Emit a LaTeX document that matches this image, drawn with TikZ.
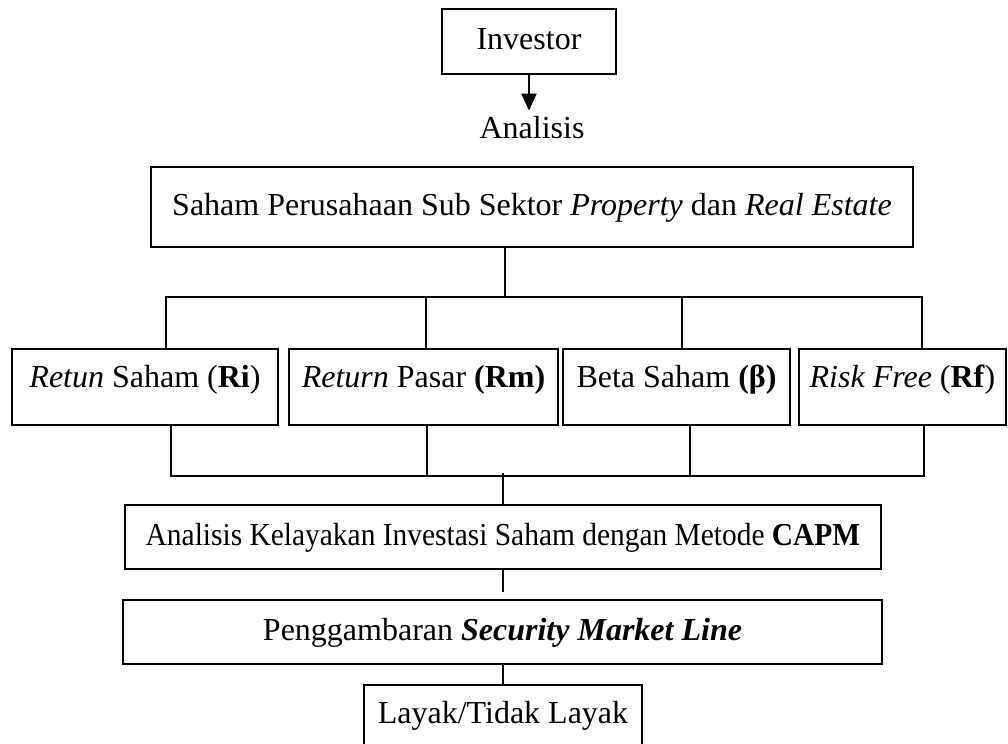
\documentclass[tikz,border=0pt]{standalone}
\usepackage{fontspec}
\setmainfont{Liberation Serif}
\usepackage{xcolor}
\usetikzlibrary{calc,arrows.meta}

\begin{document}
\begin{tikzpicture}[x=0.5pt, y=-0.5pt,
    every node/.style = {font=\fontsize{16}{19}\selectfont},
    kotak/.style = {draw, line width=1pt, inner sep=0pt, text height=11pt, text depth=3pt},
    kotakvar/.style = {draw, line width=1pt, anchor=north, inner xsep=0pt, inner ysep=8pt,
      text height=11pt, text depth=11pt, minimum height=38pt},
    garis/.style = {line width=1pt}]
  \useasboundingbox (0,0) rectangle (1008,744);

  \node[kotak, minimum width=87pt, minimum height=32.5pt] (investor) at (529,41.5) {Investor};
  \node[inner xsep=0pt, inner ysep=2.5pt, text height=11pt, text depth=3pt] (analisis) at (532,130) {Analisis};
  \node[kotak, minimum width=381pt, minimum height=40pt] (saham) at (532,207)
    {Saham Perusahaan Sub Sektor \textit{Property} dan \textit{Real Estate}};

  \node[kotakvar, minimum width=133pt] (ri) at (145,348) {\textit{Retun} Saham (\textbf{Ri})};
  \node[kotakvar, minimum width=134.5pt] (rm) at ($ (ri.north) + (278.5,0) $) {\textit{Return} Pasar \textbf{(Rm)}};
  \node[kotakvar, minimum width=113.5pt] (beta) at ($ (rm.north) + (253,0) $) {Beta Saham \textbf{(β)}};
  \node[kotakvar, minimum width=103.5pt] (rf) at ($ (beta.north) + (226,0) $) {\textit{Risk Free} (\textbf{Rf})};

  \node[kotak, minimum width=378pt, minimum height=32pt] (capm) at (503,537)
    {\scalebox{0.92}[1]{Analisis Kelayakan Investasi Saham dengan Metode \textbf{CAPM}}};
  \node[kotak, minimum width=379.5pt, minimum height=32pt] (sml) at ($ (capm) + (-0.5,95) $)
    {Penggambaran \textbf{\textit{Security Market Line}}};
  \node[kotak, minimum width=139pt, minimum height=30pt] (layak) at ($ (sml) + (0.5,83) $) {Layak/Tidak Layak};

  % investor ke analisis
  \draw[garis, -{Triangle[length=8.5pt, width=7.5pt]}] (investor.south) -- (investor.south |- analisis.north);

  % saham ke empat variabel
  \coordinate (atas) at (505,297);
  \draw[garis] (atas |- saham.south) -- (atas);
  \draw[garis] ([xshift=10.5pt]ri.north) -- ++(0,-51) -| ([xshift=9.75pt]rf.north);
  \draw[garis] ([xshift=1.25pt]rm.north) -- ++(0,-51);
  \draw[garis] ([xshift=2.75pt]beta.north) -- ++(0,-51);

  % empat variabel ke capm
  \draw[garis] ([xshift=13pt]ri.south) -- ++(0,50) -| ([xshift=10.75pt]rf.south);
  \draw[garis] ([xshift=1.75pt]rm.south) -- ++(0,50);
  \draw[garis] ([xshift=6.75pt]beta.south) -- ++(0,50);
  \draw[garis] (capm.north) -- ++(0,-31);

  \draw[garis, shorten >=3.5pt] (capm.south) -- (capm.south |- sml.north);
  \draw[garis] (sml.south) -- (sml.south |- layak.north);
\end{tikzpicture}
\end{document}
